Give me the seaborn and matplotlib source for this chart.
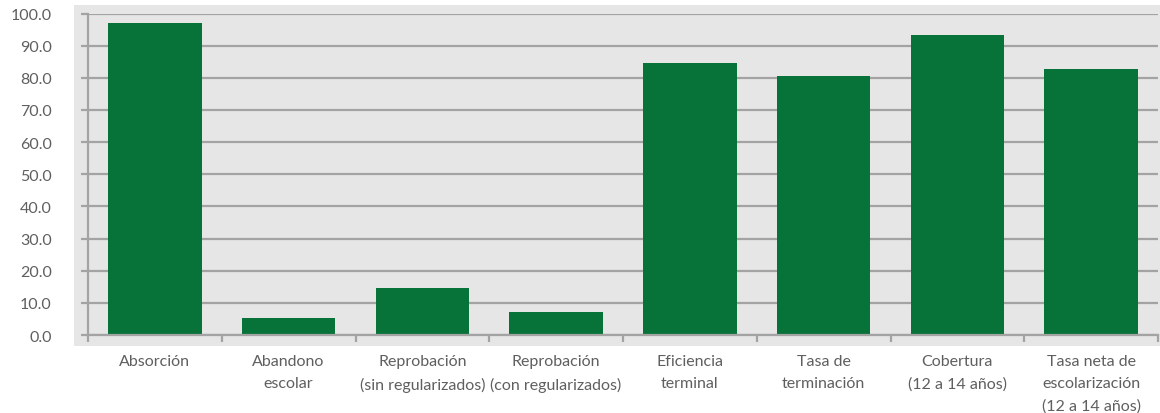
import matplotlib
matplotlib.use("Agg")
import matplotlib.pyplot as plt
import seaborn as sns
import pandas as pd
import numpy as np
from matplotlib.patches import Rectangle

# Indicadores educativos (secundaria)
categorias = [
    "Absorción",
    "Abandono\nescolar",
    "Reprobación\n(sin regularizados)",
    "Reprobación\n(con regularizados)",
    "Eficiencia\nterminal",
    "Tasa de\nterminación",
    "Cobertura\n(12 a 14 años)",
    "Tasa neta de\nescolarización\n(12 a 14 años)",
]
valores = [97.0, 5.3, 14.7, 7.2, 84.5, 80.5, 93.2, 82.7]
yticks = [0, 10, 20, 30, 40, 50, 60, 70, 80, 90, 100]

df = pd.DataFrame({"indicador": categorias, "valor": valores})

sns.set_style("white")
plt.rcParams["font.family"] = ["Lato", "DejaVu Sans"]

gris_txt = "#5f5f5f"
gris_linea = "#a3a3a3"
verde = "#077338"

fig = plt.figure(figsize=(11.6, 4.14), dpi=100)
# fondo gris detrás del área del gráfico
fondo = Rectangle((74 / 1160, 1 - 347 / 414), (1160 - 74) / 1160, (347 - 6) / 414,
                  transform=fig.transFigure, facecolor="#e5e6e5",
                  edgecolor="none", zorder=-10)
fig.add_artist(fondo)
ax = fig.add_axes([88 / 1160, 1 - 336 / 414, (1158 - 88) / 1160, (336 - 14.5) / 414])
ax.set_facecolor("none")
ax.set_zorder(1)

sns.barplot(data=df, x="indicador", y="valor", color=verde, width=0.7,
            saturation=1, linewidth=0, ax=ax, zorder=3)

ax.set_xlim(-0.5, len(categorias) - 0.5)
ax.set_ylim(0, 100)
ax.set_yticks(yticks)
ax.set_yticklabels([f"{v:.1f}" for v in yticks])
ax.yaxis.grid(True, color=gris_linea, linewidth=1.6, zorder=1)
ax.set_axisbelow(True)
ax.set_xlabel("")
ax.set_ylabel("")

for s in ["top", "right"]:
    ax.spines[s].set_visible(False)
for s in ["left", "bottom"]:
    ax.spines[s].set_color(gris_linea)
    ax.spines[s].set_linewidth(1.6)
    ax.spines[s].set_zorder(4)

ax.tick_params(axis="y", left=True, length=5, width=1.6, color=gris_linea, pad=21,
               labelsize=11.5, labelcolor=gris_txt)
ax.tick_params(axis="x", which="major", length=0, pad=14,
               labelsize=11.5, labelcolor=gris_txt)
ax.set_xticks(np.arange(-0.5, len(categorias)), minor=True)
ax.tick_params(axis="x", which="minor", bottom=True, length=5, width=1.6,
               color=gris_linea)
for lbl in ax.get_xticklabels():
    lbl.set_linespacing(1.7)

fig.savefig("out.png", dpi=100)
